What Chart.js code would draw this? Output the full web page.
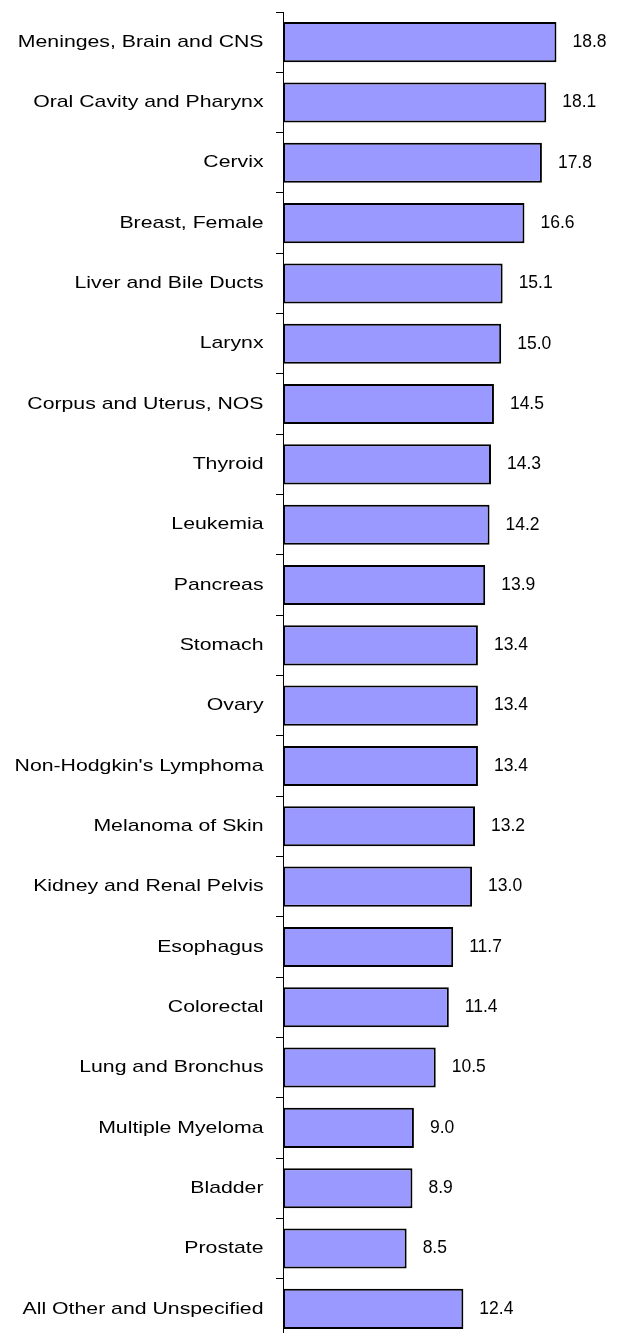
<!DOCTYPE html>
<html>
<head>
<meta charset="utf-8">
<script src="https://cdn.jsdelivr.net/npm/chart.js@4/dist/chart.umd.min.js"></script>
<style>
  html, body { margin: 0; padding: 0; background: #fff; overflow: hidden; }
</style>
</head>
<body>
<canvas id="chart" width="618" height="1339"></canvas>
<script>
// Cancer sites and their values, top to bottom
var sites = [
    "Meninges, Brain and CNS",
    "Oral Cavity and Pharynx",
    "Cervix",
    "Breast, Female",
    "Liver and Bile Ducts",
    "Larynx",
    "Corpus and Uterus, NOS",
    "Thyroid",
    "Leukemia",
    "Pancreas",
    "Stomach",
    "Ovary",
    "Non-Hodgkin's Lymphoma",
    "Melanoma of Skin",
    "Kidney and Renal Pelvis",
    "Esophagus",
    "Colorectal",
    "Lung and Bronchus",
    "Multiple Myeloma",
    "Bladder",
    "Prostate",
    "All Other and Unspecified"
];
var values = [18.8, 18.1, 17.8, 16.6, 15.1, 15.0, 14.5, 14.3, 14.2, 13.9, 13.4,
              13.4, 13.4, 13.2, 13.0, 11.7, 11.4, 10.5, 9.0, 8.9, 8.5, 12.4];

var fontFamily = "'Liberation Sans', Arial, sans-serif";

// Category labels: the original uses a horizontally stretched Arial,
// so draw them ourselves at the y scale's tick positions
var categoryLabels = {
    id: "categoryLabels",
    afterDraw: function (chart) {
        var ctx = chart.ctx;
        var yScale = chart.scales.y;
        ctx.save();
        ctx.font = "17px " + fontFamily;
        ctx.fillStyle = "#000";
        ctx.textAlign = "right";
        ctx.textBaseline = "middle";
        chart.data.labels.forEach(function (label, i) {
            var y = yScale.getPixelForTick(i);
            ctx.save();
            ctx.translate(263.5, y);
            ctx.scale(1.25, 1);
            ctx.fillText(label, 0, 0);
            ctx.restore();
        });
        ctx.restore();
    }
};

// Draw value labels to the right of each bar
var valueLabels = {
    id: "valueLabels",
    afterDatasetsDraw: function (chart) {
        var ctx = chart.ctx;
        var meta = chart.getDatasetMeta(0);
        ctx.save();
        ctx.font = "17.5px " + fontFamily;
        ctx.fillStyle = "#000";
        ctx.textAlign = "left";
        ctx.textBaseline = "middle";
        meta.data.forEach(function (bar, i) {
            ctx.fillText(values[i].toFixed(1), bar.x + 16, bar.y);
        });
        ctx.restore();
    }
};

var ctx = document.getElementById("chart").getContext("2d");
var chart = new Chart(ctx, {
    type: "bar",
    data: {
        labels: sites,
        datasets: [{
            data: values,
            backgroundColor: "#9999ff",
            borderColor: "#000",
            borderWidth: 2,
            borderSkipped: false,
            categoryPercentage: 1.0,
            barPercentage: 0.665
        }]
    },
    options: {
        indexAxis: "y",
        responsive: false,
        animation: false,
        layout: { padding: { top: 12, right: 15, bottom: 0, left: 0 } },
        plugins: {
            legend: { display: false },
            tooltip: { enabled: false }
        },
        scales: {
            x: {
                display: false,
                min: 0,
                max: 22
            },
            y: {
                afterFit: function (scale) {
                    scale.width = 283;
                    scale.paddingTop = 0;
                    scale.paddingBottom = 0;
                },
                grid: {
                    offset: true,
                    drawOnChartArea: false,
                    drawTicks: true,
                    tickLength: 7,
                    color: "#000"
                },
                border: { color: "#000", width: 1 },
                ticks: { display: false }
            }
        }
    },
    plugins: [valueLabels, categoryLabels]
});
</script>
</body>
</html>
